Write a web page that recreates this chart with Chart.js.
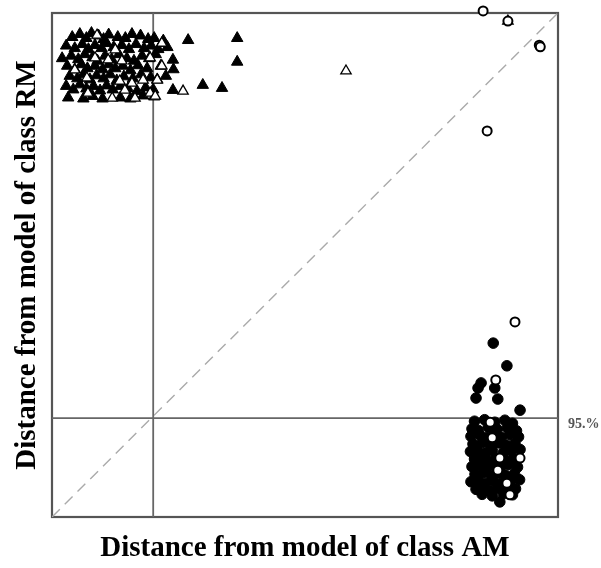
<!DOCTYPE html>
<html>
<head>
<meta charset="utf-8">
<script src="https://cdn.jsdelivr.net/npm/chart.js@4/dist/chart.umd.min.js"></script>
<style>
  html, body { margin: 0; padding: 0; background: #fff; }
  #wrap { width: 601px; height: 568px; }
</style>
</head>
<body>
<div id="wrap"><canvas id="myChart"></canvas></div>
<script>
// class RM samples (triangles) - filled = training, open = test
const rmFilled = [
  [0.40,9.52],[0.55,9.58],[0.68,9.50],[0.78,9.60],[0.92,9.55],[1.02,9.48],[1.12,9.57],[1.30,9.52],[1.45,9.50],[1.58,9.58],[1.75,9.55],[1.90,9.48],[2.02,9.50],[2.20,9.45],
  [0.28,9.35],[0.45,9.30],[0.60,9.38],[0.72,9.28],[0.85,9.36],[0.98,9.30],[1.08,9.40],[1.22,9.32],[1.38,9.36],[1.52,9.28],[1.66,9.38],[1.82,9.30],[1.96,9.35],[2.10,9.28],[2.28,9.32],
  [0.20,9.10],[0.38,9.15],[0.52,9.08],[0.65,9.18],[0.80,9.12],[0.90,9.05],[1.05,9.15],[1.18,9.08],[1.32,9.18],[1.48,9.10],[1.62,9.05],[1.78,9.15],[1.92,9.10],[2.05,9.18],[2.39,9.07],
  [0.30,8.95],[0.45,8.88],[0.58,8.98],[0.70,8.90],[0.85,8.95],[1.00,8.88],[1.12,8.98],[1.25,8.90],[1.40,8.95],[1.55,8.86],[1.70,8.96],[1.88,8.90],[2.15,8.95],[2.40,8.88],
  [0.35,8.75],[0.50,8.70],[0.62,8.78],[0.75,8.68],[0.88,8.76],[1.02,8.70],[1.15,8.78],[1.28,8.66],[1.42,8.74],[1.60,8.70],[1.76,8.78],[1.95,8.72],[2.08,8.68],[2.25,8.75],
  [0.28,8.55],[0.42,8.48],[0.55,8.58],[0.68,8.50],[0.82,8.55],[0.95,8.46],[1.08,8.56],[1.20,8.48],[1.35,8.55],[1.50,8.50],[1.68,8.45],[1.85,8.52],[2.00,8.48],[2.39,8.47],
  [0.32,8.32],[0.62,8.30],[0.80,8.35],[1.00,8.30],[1.35,8.32],[1.55,8.30],[1.80,8.36],[2.02,8.34],
  [2.69,9.46],[3.66,9.50],[3.66,9.03],[2.98,8.57],[3.36,8.51]
];
const rmOpen = [
  [0.89,9.56],[2.17,9.40],[1.94,9.11],[2.17,8.95],[2.08,8.67],[1.94,8.41],[2.04,8.35],[2.59,8.45],
  [0.85,9.11],[1.11,9.07],[1.38,9.05],[0.69,8.71],[1.34,8.65],[1.58,8.61],[1.80,8.67],[1.44,8.47],
  [1.19,8.31],[0.71,8.41],[1.64,8.31],[1.25,9.27],[0.45,8.87],
  [5.81,8.85],[9.01,9.84]
];
// class AM samples (circles)
const amFilled = [
  [8.72,3.45],[8.99,3.00],[8.48,2.66],[8.42,2.56],[8.38,2.36],[8.75,2.56],[8.81,2.34],[9.25,2.12],[8.85,0.30],
  [8.35,1.90],[8.55,1.93],[8.75,1.88],[8.95,1.92],[9.10,1.86],
  [8.30,1.75],[8.42,1.72],[8.62,1.78],[8.80,1.74],[9.00,1.77],[9.18,1.71],
  [8.28,1.60],[8.45,1.63],[8.58,1.57],[8.72,1.62],[8.88,1.58],[9.05,1.64],[9.22,1.59],
  [8.32,1.45],[8.50,1.48],[8.66,1.42],[8.84,1.47],[8.98,1.43],[9.15,1.46],
  [8.27,1.30],[8.40,1.33],[8.55,1.27],[8.70,1.32],[8.92,1.28],[9.08,1.31],[9.25,1.34],
  [8.35,1.15],[8.48,1.18],[8.62,1.12],[8.78,1.17],[8.95,1.13],[9.12,1.16],
  [8.30,1.00],[8.44,1.03],[8.58,0.97],[8.74,1.02],[8.86,0.98],[9.02,1.04],[9.20,0.99],
  [8.36,0.85],[8.52,0.88],[8.68,0.82],[8.82,0.87],[8.96,0.83],[9.14,0.86],
  [8.28,0.70],[8.42,0.73],[8.56,0.67],[8.72,0.72],[8.90,0.68],[9.06,0.71],[9.24,0.74],
  [8.38,0.55],[8.54,0.58],[8.66,0.52],[8.80,0.57],[9.00,0.53],[9.16,0.56],
  [8.50,0.45],[8.70,0.42],[8.92,0.46],[9.10,0.44]
];
const amOpen = [
  [9.15,3.87],[8.77,2.72],[8.66,1.88],[8.70,1.57],[9.25,1.17],[8.99,0.67],[9.05,0.44],[8.81,0.93],[8.85,1.17],
  [8.52,10.04],[9.01,9.84],[9.63,9.36],[9.65,9.33],[8.60,7.66]
];
// 95% critical distances for both class models
const critAM = 2.0;
const critRM = 1.96;
const critLabel = '95.%';
const axisMax = 10;

const toPts = arr => arr.map(p => ({ x: p[0], y: p[1] }));
const serif = '"Liberation Serif", "Times New Roman", serif';

const frame = {
  id: 'frame',
  beforeDatasetsDraw(chart) {
    const { ctx, chartArea: a } = chart;
    ctx.save();
    ctx.strokeStyle = '#555';
    ctx.lineWidth = 2.2;
    ctx.strokeRect(a.left, a.top, a.right - a.left, a.bottom - a.top);
    ctx.restore();
  },
  afterDraw(chart) {
    const { ctx, chartArea: a, scales } = chart;
    ctx.save();
    ctx.fillStyle = '#555';
    ctx.font = 'bold 14px ' + serif;
    ctx.textBaseline = 'middle';
    ctx.fillText(critLabel, a.right + 10, scales.y.getPixelForValue(critRM) + 6);
    ctx.restore();
  }
};

const ctx = document.getElementById('myChart');

new Chart(ctx, {
  type: 'scatter',
  plugins: [frame],
  data: {
    datasets: [
      {
        data: toPts(amOpen),
        pointStyle: 'circle',
        pointRadius: 4.5,
        backgroundColor: '#fff',
        borderColor: '#000',
        borderWidth: 2,
        clip: false,
      },
      {
        data: toPts(rmOpen),
        pointStyle: 'triangle',
        pointRadius: 6,
        backgroundColor: '#fff',
        borderColor: '#000',
        borderWidth: 1.3,
        clip: false,
      },
      {
        data: toPts(amFilled),
        pointStyle: 'circle',
        pointRadius: 5.3,
        backgroundColor: '#000',
        borderColor: '#000',
        borderWidth: 1,
      },
      {
        data: toPts(rmFilled),
        pointStyle: 'triangle',
        pointRadius: 6.6,
        backgroundColor: '#000',
        borderColor: '#000',
        borderWidth: 1,
      },
      {
        type: 'line',
        data: [{ x: critAM, y: 0 }, { x: critAM, y: axisMax }],
        borderColor: '#666',
        borderWidth: 1.8,
        pointRadius: 0,
      },
      {
        type: 'line',
        data: [{ x: 0, y: critRM }, { x: axisMax, y: critRM }],
        borderColor: '#666',
        borderWidth: 1.8,
        pointRadius: 0,
      },
      {
        type: 'line',
        data: [{ x: 0, y: 0 }, { x: axisMax, y: axisMax }],
        borderColor: '#aaa',
        borderWidth: 1.4,
        borderDash: [11, 7],
        pointRadius: 0,
      },
    ],
  },
  options: {
    responsive: true,
    maintainAspectRatio: false,
    animation: false,
    layout: {
      padding: { top: 13, right: 43, bottom: 0, left: 0 },
    },
    plugins: {
      legend: { display: false },
      tooltip: { enabled: false },
    },
    scales: {
      x: {
        type: 'linear',
        min: 0,
        max: axisMax,
        grid: { display: false, drawTicks: false },
        border: { display: false },
        ticks: { display: false },
        title: {
          display: true,
          text: 'Distance from model of class AM',
          color: '#000',
          font: { family: serif, size: 29, weight: 'bold' },
          padding: { top: 0, bottom: 2 },
        },
        afterFit(scale) { scale.height = 51; },
      },
      y: {
        type: 'linear',
        min: 0,
        max: axisMax,
        grid: { display: false, drawTicks: false },
        border: { display: false },
        ticks: { display: false },
        title: {
          display: true,
          text: 'Distance from model of class RM',
          color: '#000',
          font: { family: serif, size: 29, weight: 'bold' },
          padding: { top: 10, bottom: 0 },
        },
        afterFit(scale) { scale.width = 52; },
      },
    },
  },
});
</script>
</body>
</html>
